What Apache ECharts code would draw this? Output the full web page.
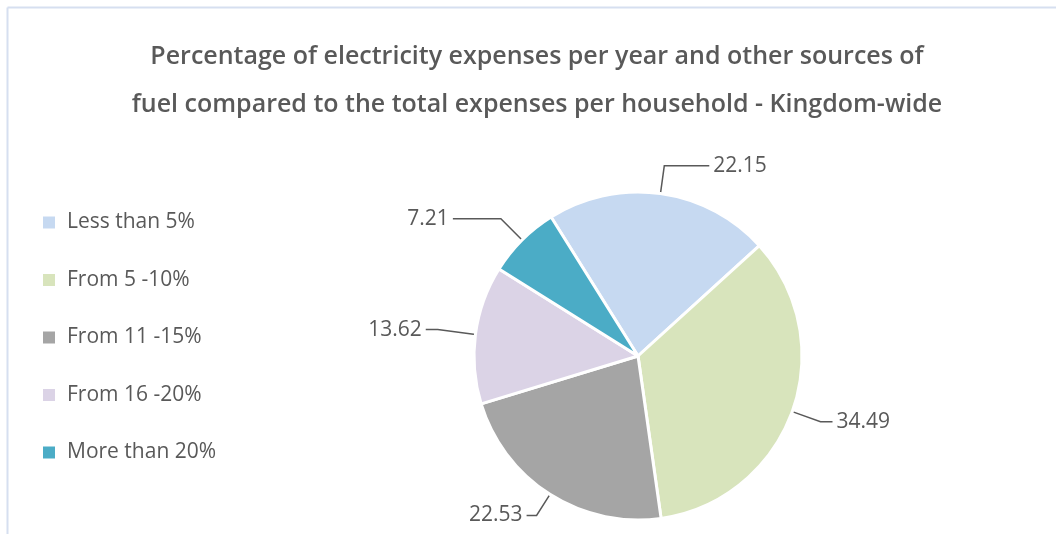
<!DOCTYPE html>
<html>
<head>
<meta charset="utf-8">
<script src="https://cdn.jsdelivr.net/npm/echarts@6/dist/echarts.min.js"></script>
<style>
html,body{margin:0;padding:0;background:#fff;}
#c{width:1056px;height:534px;}
</style>
</head>
<body>
<div id="c"></div>
<script>
const titleLines = [
  'Percentage of electricity expenses per year and other sources of',
  'fuel compared to the total expenses per household - Kingdom-wide'
];
const categories = ['Less than 5%', 'From 5 -10%', 'From 11 -15%', 'From 16 -20%', 'More than 20%'];
const values = [22.15, 34.49, 22.53, 13.62, 7.21];
const colors = ['#c6d9f1', '#d8e4bc', '#a5a5a5', '#dbd3e6', '#4bacc6'];
const lineLen = [28, 30, 25, 38, 30];
const lineLen2 = [45, 12, 10, 12, 48];

const chart = echarts.init(document.getElementById('c'), null, {renderer: 'canvas'});
const font = '"Open Sans", "Noto Sans", sans-serif';
chart.setOption({
  animation: false,
  backgroundColor: '#ffffff',
  title: {
    text: titleLines.join('\n'),
    left: 537,
    textAlign: 'center',
    top: 33,
    padding: 0,
    textStyle: {
      fontFamily: font,
      fontSize: 25,
      fontWeight: 600,
      color: '#595959',
      lineHeight: 48
    }
  },
  legend: {
    orient: 'vertical',
    left: 41,
    top: 212,
    padding: 0,
    icon: 'rect',
    itemWidth: 14,
    itemHeight: 14,
    itemGap: 36.5,
    data: categories,
    textStyle: {
      fontFamily: font,
      fontSize: 21,
      color: '#595959',
      lineHeight: 20,
      padding: [0, 0, 0, 6]
    }
  },
  graphic: [
    {type: 'line', shape: {x1: 7.5, y1: 7.5, x2: 1056, y2: 7.5}, style: {stroke: '#d6dff0', lineWidth: 2}},
    {type: 'line', shape: {x1: 7.5, y1: 7.5, x2: 7.5, y2: 534}, style: {stroke: '#d6dff0', lineWidth: 2}}
  ],
  series: [{
    type: 'pie',
    center: [638, 356],
    radius: 164,
    startAngle: 122,
    clockwise: true,
    avoidLabelOverlap: false,
    itemStyle: {borderColor: '#ffffff', borderWidth: 3},
    label: {
      show: true,
      formatter: p => p.value.toFixed(2),
      fontFamily: font,
      fontSize: 21,
      color: '#595959',
      distanceToLabelLine: 4
    },
    labelLine: {
      show: true,
      lineStyle: {color: '#595959', width: 1.5}
    },
    emphasis: {disabled: true},
    data: categories.map((name, i) => ({
      name: name,
      value: values[i],
      itemStyle: {color: colors[i]},
      labelLine: {length: lineLen[i], length2: lineLen2[i]}
    }))
  }]
});
</script>
</body>
</html>
